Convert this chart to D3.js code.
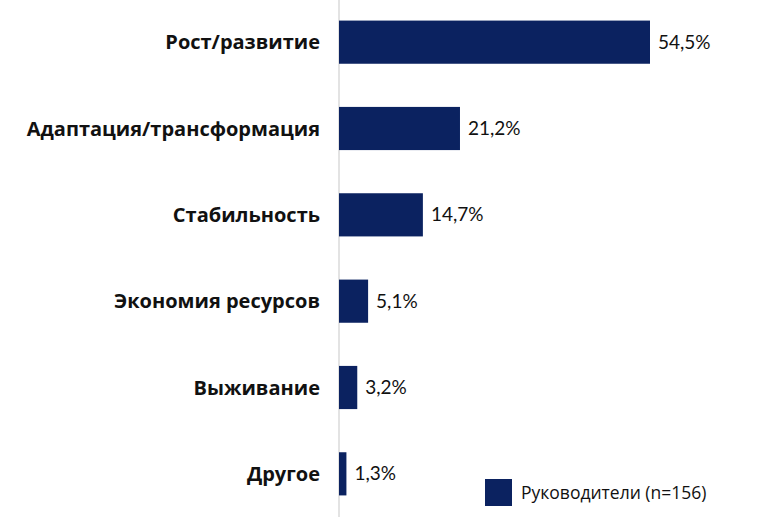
<!DOCTYPE html>
<html>
<head>
<meta charset="utf-8">
<script src="https://d3js.org/d3.v7.min.js"></script>
<style>
  body { margin: 0; background: #fff; }
  svg text { font-family: Lato, "Open Sans", sans-serif; }
  svg text.cat { font-family: "Open Sans", Lato, sans-serif; }
  svg text.leg { font-family: "Open Sans", Lato, sans-serif; }
</style>
</head>
<body>
<svg id="chart" width="777" height="525"></svg>
<script>
var categories = ["Рост/развитие", "Адаптация/трансформация", "Стабильность", "Экономия ресурсов", "Выживание", "Другое"];
var values = [54.5, 21.2, 14.7, 5.1, 3.2, 1.3];
var valueLabels = ["54,5%", "21,2%", "14,7%", "5,1%", "3,2%", "1,3%"];
var seriesName = "Руководители (n=156)";

var barColor = "#0b2260";
var x0 = 339;
var svg = d3.select("#chart");

var x = d3.scaleLinear().domain([0, 54.5]).range([x0, 650]);
var y = d3.scaleBand().domain(categories).range([-1, 517]).paddingInner(0.5).paddingOuter(0.25);

// axis line
svg.append("line")
  .attr("x1", x0).attr("x2", x0)
  .attr("y1", 0).attr("y2", 517)
  .attr("stroke", "#e3e3e3").attr("stroke-width", 2);

var rows = svg.selectAll("g.row").data(categories).enter().append("g").attr("class", "row");

rows.append("rect")
  .attr("x", x0)
  .attr("y", function(d) { return y(d); })
  .attr("width", function(d, i) { return x(values[i]) - x0; })
  .attr("height", y.bandwidth())
  .attr("fill", barColor);

rows.append("text")
  .attr("class", "cat")
  .attr("x", 320)
  .attr("y", function(d) { return y(d) + y.bandwidth() / 2; })
  .attr("dy", "0.35em")
  .attr("text-anchor", "end")
  .attr("font-weight", "bold")
  .attr("font-size", 20)
  .attr("fill", "#111")
  .text(function(d) { return d; });

rows.append("text")
  .attr("x", function(d, i) { return x(values[i]) + 8; })
  .attr("y", function(d) { return y(d) + y.bandwidth() / 2; })
  .attr("dy", "0.35em")
  .attr("font-size", 19)
  .attr("fill", "#111")
  .text(function(d, i) { return valueLabels[i]; });

// legend
var lg = svg.append("g").attr("transform", "translate(485,479)");
lg.append("rect").attr("width", 27).attr("height", 27).attr("fill", barColor);
lg.append("text").attr("class", "leg").attr("x", 36).attr("y", 14).attr("dy", "0.35em")
  .attr("font-size", 17.5).attr("fill", "#111").text(seriesName);
</script>
</body>
</html>
